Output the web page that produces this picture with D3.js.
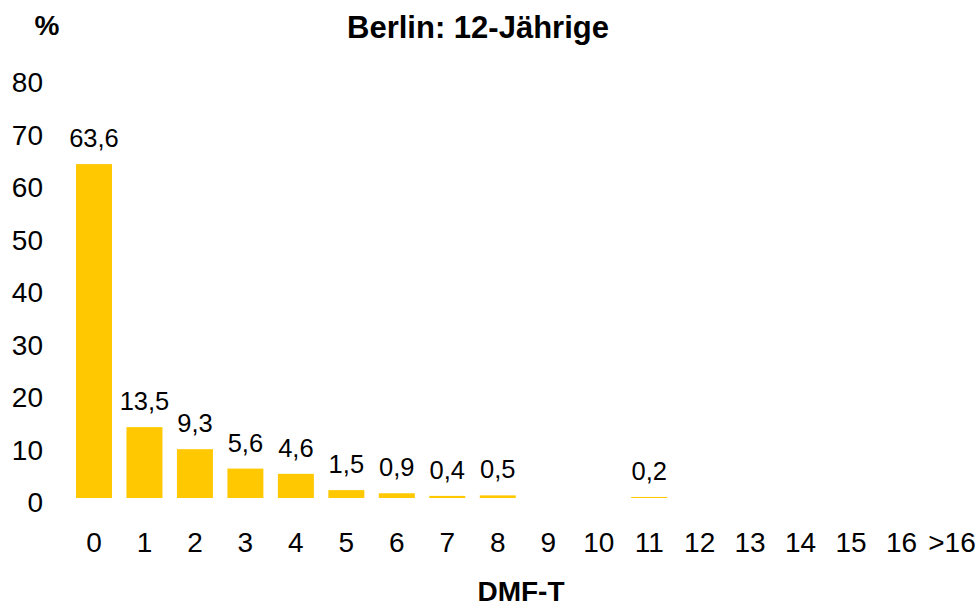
<!DOCTYPE html>
<html><head><meta charset="utf-8">
<script src="https://cdn.jsdelivr.net/npm/d3@7"></script>
<style>body{margin:0;background:#fff}svg{display:block}text{font-family:"Liberation Sans",Arial,sans-serif;fill:#000}</style>
</head><body>
<script>
const categories = ["0","1","2","3","4","5","6","7","8","9","10","11","12","13","14","15","16",">16"];
const values = [63.6,13.5,9.3,5.6,4.6,1.5,0.9,0.4,0.5,null,null,0.2,null,null,null,null,null,null];
const valueLabels = ["63,6","13,5","9,3","5,6","4,6","1,5","0,9","0,4","0,5","","","0,2","","","","","",""];
const yTicks = [0,10,20,30,40,50,60,70,80];

const W=979,H=609;
const svg=d3.select("body").append("svg").attr("width",W).attr("height",H);
const x=d3.scaleBand().domain(categories).range([68.75,977.25]).paddingInner(0.287).paddingOuter(0.1435);
const y=d3.scaleLinear().domain([0,80]).range([498,78]);

const yAxis=svg.append("g").attr("transform","translate(43,5)").call(d3.axisLeft(y).tickValues(yTicks).tickSize(0).tickPadding(0));
yAxis.select(".domain").remove();
yAxis.selectAll("text").attr("font-size",28).attr("font-family","Liberation Sans, Arial, sans-serif").attr("fill","#000");

const xAxis=svg.append("g").attr("transform","translate(0,552)").call(d3.axisBottom(x).tickSize(0).tickPadding(0));
xAxis.select(".domain").remove();
xAxis.selectAll("text").attr("font-size",28).attr("dy",0).attr("font-family","Liberation Sans, Arial, sans-serif").attr("fill","#000");

const data=categories.map((c,i)=>({c,v:values[i],l:valueLabels[i]})).filter(d=>d.v!=null);
svg.selectAll("rect.bar").data(data).enter().append("rect").attr("class","bar")
  .attr("x",d=>x(d.c)).attr("width",x.bandwidth())
  .attr("y",d=>y(d.v)).attr("height",d=>y(0)-y(d.v)).attr("fill","#FFC800");
svg.selectAll("text.val").data(data).enter().append("text").attr("class","val")
  .attr("x",d=>x(d.c)+x.bandwidth()/2).attr("y",d=>y(d.v)-17)
  .attr("text-anchor","middle").attr("font-size",25.5).text(d=>d.l);

svg.append("text").attr("x",478).attr("y",38).attr("text-anchor","middle").attr("font-size",31).attr("font-weight","bold").text("Berlin: 12-Jährige");
svg.append("text").attr("x",47).attr("y",35).attr("text-anchor","middle").attr("font-size",28).attr("font-weight","bold").text("%");
svg.append("text").attr("x",521).attr("y",601).attr("text-anchor","middle").attr("font-size",28).attr("font-weight","bold").text("DMF-T");
</script>
</body></html>
